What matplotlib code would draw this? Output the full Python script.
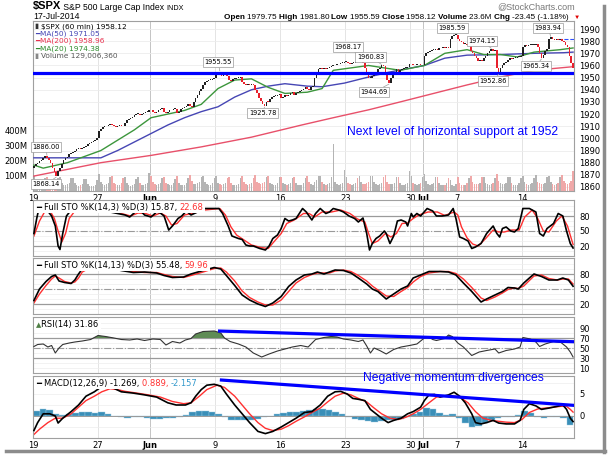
import numpy as np
import matplotlib.pyplot as plt
from matplotlib.patches import Rectangle
from matplotlib.lines import Line2D

W, H = 609, 455

# ---------------- data ----------------
# hourly closes, one row per trading day (Jul 3 was a half day)
first_open = 1876.0
closes = [
    [1877, 1879, 1880, 1881, 1882, 1884, 1885.1],    # May 19
    [1884, 1882, 1880, 1876, 1872, 1869, 1872.8],    # May 20
    [1876, 1879, 1882, 1884, 1885, 1887, 1888.0],    # May 21
    [1889, 1890, 1891, 1892, 1891, 1892, 1892.5],    # May 22
    [1894, 1895, 1896, 1897, 1898, 1899, 1900.5],    # May 23
    [1906, 1908, 1909, 1910, 1910, 1911, 1911.9],    # May 27
    [1911, 1910, 1909, 1910, 1911, 1910, 1909.8],    # May 28
    [1913, 1915, 1916, 1917, 1918, 1919, 1920.0],    # May 29
    [1920, 1919, 1920, 1921, 1922, 1922, 1923.6],    # May 30
    [1923, 1922, 1921, 1922, 1923, 1924, 1925.0],    # Jun 2
    [1922, 1921, 1922, 1923, 1923, 1924, 1924.2],    # Jun 3
    [1921, 1922, 1924, 1925, 1926, 1927, 1927.9],    # Jun 4
    [1927, 1926, 1930, 1933, 1936, 1939, 1940.5],    # Jun 5
    [1944, 1946, 1947, 1948, 1948, 1949, 1949.4],    # Jun 6
    [1953, 1955, 1952, 1951, 1952, 1953, 1951.3],    # Jun 9
    [1948, 1947, 1949, 1949, 1950, 1950, 1950.8],    # Jun 10
    [1946, 1945, 1944, 1945, 1944, 1944, 1943.9],    # Jun 11
    [1940, 1937, 1933, 1931, 1928, 1926.5, 1930.1],  # Jun 12
    [1930, 1932, 1934, 1935, 1935, 1936, 1936.2],    # Jun 13
    [1933, 1934, 1936, 1935, 1936, 1937, 1937.8],    # Jun 16
    [1936, 1937, 1938, 1939, 1940, 1941, 1942.0],    # Jun 17
    [1941, 1940, 1942, 1943, 1950, 1954, 1957.0],    # Jun 18
    [1958, 1957, 1958, 1957, 1958, 1959, 1959.5],    # Jun 19
    [1960, 1960, 1961, 1961, 1962, 1962, 1962.9],    # Jun 20
    [1963, 1962, 1961, 1962, 1962, 1963, 1962.6],    # Jun 23
    [1966, 1967.5, 1962, 1958, 1954, 1950, 1950.0],  # Jun 24
    [1951, 1953, 1955, 1957, 1958, 1960, 1959.5],    # Jun 25
    [1955, 1948, 1945.5, 1950, 1953, 1955, 1957.2],  # Jun 26
    [1955, 1956, 1957, 1958, 1958, 1959, 1961.0],    # Jun 27
    [1961, 1960, 1960, 1961, 1961, 1960, 1960.2],    # Jun 30
    [1968, 1970, 1971, 1972, 1973, 1973, 1973.3],    # Jul 1
    [1973, 1974, 1974, 1975, 1974, 1975, 1974.6],    # Jul 2
    [1982, 1984, 1985.2, 1985.4],                    # Jul 3
    [1982, 1980, 1979, 1978, 1978, 1977, 1977.7],    # Jul 7
    [1972, 1970, 1968, 1966, 1964, 1964, 1963.7],    # Jul 8
    [1966, 1968, 1970, 1972, 1973.5, 1972, 1972.8],  # Jul 9
    [1958, 1954, 1958, 1960, 1962, 1963, 1964.7],    # Jul 10
    [1966, 1965, 1966, 1966, 1967, 1967, 1967.6],    # Jul 11
    [1975, 1977, 1976, 1977, 1977, 1977, 1977.1],    # Jul 14
    [1978, 1975, 1970, 1966, 1969, 1972, 1973.3],    # Jul 15
    [1982, 1983.5, 1982, 1981, 1982, 1981, 1981.6],  # Jul 16
    [1980, 1979, 1977, 1975, 1968, 1962, 1958.1],    # Jul 17
]

# hourly volume in millions, same layout
volumes = [
    [100, 62, 48, 40, 44, 52, 84], [96, 58, 48, 44, 55, 62, 88],
    [92, 55, 42, 38, 45, 52, 85], [88, 52, 40, 36, 40, 48, 78],
    [80, 45, 36, 30, 34, 40, 70], [112, 62, 48, 40, 44, 52, 92],
    [98, 56, 44, 38, 42, 50, 84], [94, 52, 40, 36, 40, 48, 80],
    [96, 54, 42, 38, 44, 52, 118], [100, 58, 44, 40, 44, 52, 86],
    [96, 56, 44, 40, 42, 50, 82], [98, 56, 42, 38, 42, 50, 84],
    [108, 66, 48, 44, 52, 60, 96], [102, 58, 44, 38, 42, 50, 88],
    [100, 56, 44, 40, 44, 50, 86], [94, 54, 42, 38, 42, 48, 84],
    [98, 58, 46, 40, 44, 52, 88], [104, 62, 50, 44, 50, 58, 96],
    [98, 56, 44, 38, 42, 50, 90], [96, 56, 44, 40, 44, 52, 88],
    [94, 54, 42, 38, 42, 50, 86], [98, 58, 44, 40, 62, 70, 100],
    [102, 60, 46, 42, 46, 54, 96], [315, 62, 46, 42, 48, 56, 140],
    [96, 56, 44, 40, 44, 52, 88], [100, 60, 48, 46, 52, 60, 98],
    [102, 58, 46, 42, 46, 54, 90], [104, 62, 48, 44, 48, 56, 92],
    [96, 54, 42, 38, 44, 56, 135], [98, 56, 44, 40, 44, 52, 92],
    [110, 64, 48, 42, 46, 54, 92], [96, 54, 42, 38, 42, 50, 84],
    [72, 42, 34, 48], [92, 54, 42, 38, 42, 50, 84],
    [100, 60, 48, 44, 48, 56, 94], [96, 56, 44, 40, 44, 52, 88],
    [112, 66, 50, 44, 48, 56, 94], [94, 54, 42, 38, 42, 50, 86],
    [100, 58, 44, 40, 44, 52, 88], [104, 62, 50, 44, 48, 56, 94],
    [100, 58, 46, 40, 44, 52, 90], [108, 64, 50, 46, 56, 68, 130],
]

tick_bars = [0, 35, 63, 98, 133, 168, 203, 210, 228, 263]
tick_text = ['19', '27', 'Jun', '9', '16', '23', '30', 'Jul', '7', '14']

# moving averages (bar index, value)
ma200_x = [0, 36, 63, 90, 117, 144, 161, 180, 197, 215, 233, 251, 269, 290]
ma200_y = [1869, 1880, 1886, 1893, 1901, 1911, 1917, 1923.5, 1930, 1937, 1944, 1950.5, 1956, 1959]
ma50_x = [0, 36, 45, 54, 63, 72, 81, 90, 99, 108, 117, 126, 135, 147, 155, 167, 180, 191,
          203, 210, 221, 233, 251, 269, 285, 290]
ma50_y = [1884, 1884, 1890, 1897, 1904, 1911, 1917, 1922, 1926, 1934, 1940, 1943, 1945, 1943,
          1942.5, 1945.5, 1950.5, 1954.5, 1958, 1960, 1966, 1968.5, 1969, 1970, 1970.5, 1971]
ma20_x = [0, 5, 18, 36, 54, 63, 81, 90, 99, 108, 117, 126, 135, 147, 155, 161, 180, 197,
          210, 221, 233, 242, 251, 260, 269, 283, 290]
ma20_y = [1878, 1875.5, 1880, 1890, 1907, 1917, 1923, 1928, 1941, 1948, 1949, 1942, 1937, 1938,
          1941, 1956, 1960, 1956, 1960, 1970, 1973, 1969, 1969, 1967, 1971, 1973, 1974.4]

# price labels: text, label box (bar, price), tip (bar, price)
label_text = ['1886.00', '1868.14', '1955.55', '1925.78', '1968.17', '1960.83',
              '1944.69', '1985.59', '1974.15', '1983.94', '1952.86', '1965.34']
label_box = [(6.5, 1893), (6.5, 1862.5), (99, 1962.9), (123, 1921), (169, 1975.2),
             (181, 1967), (183, 1938.2), (225, 1990.9), (241, 1980.2), (276.5, 1990.9),
             (247, 1947.2), (270, 1959.6)]
label_tip = [(7, 1886.0), (12, 1868.14), (100, 1955.55), (124, 1925.78), (175, 1968.17),
             (187, 1960.83), (191, 1944.69), (226, 1985.59), (246, 1974.15), (278, 1983.94),
             (250, 1952.86), (273, 1965.34)]
support_level = 1953.5

# Full STO %K(14,3) / %D(3)
sto1_k_x = [0, 1.5, 2.5, 7, 9.5, 11.5, 13, 14, 15.5, 17.5, 20, 27, 34.5, 38.5, 41, 45, 49, 51.5,
            54.5, 57.5, 59.5, 63, 66, 68, 70, 72.5, 74.5, 77.5, 79.5, 82, 84.5, 88, 91, 95, 99.5,
            101.5, 104.5, 106.5, 110, 112, 114, 116, 118, 121.5, 124.5, 126.5, 128.5, 131, 133,
            135, 137, 139, 141, 144.5, 146.5, 149.5, 151.5, 154, 157, 159, 161, 164, 166.5, 169.5,
            172.5, 174.5, 177, 179, 180.5, 182, 184, 186, 188.5, 189.5, 191.5, 193.5, 195.5,
            197.5, 200, 201, 203, 204, 206, 208, 211.5, 214.5, 216.5, 219.5, 223, 225.5, 227,
            229, 231, 233.5, 235.5, 237.5, 240.5, 243.5, 247, 249, 250.5, 252, 254, 256.5, 258.5,
            260.5, 263, 266.5, 270, 272, 274, 276, 279.5, 282, 284.5, 286.5, 288.5, 290]
sto1_k = [45, 75, 92, 92, 80, 60, 20, 13, 45, 80, 92, 95, 92, 90, 88, 85, 82, 78, 88, 90,
          82, 78, 88, 86, 80, 52, 60, 75, 80, 90, 82, 88, 95, 95, 95, 85, 60, 40, 35, 33,
          22, 20, 20, 15, 12, 20, 35, 42, 55, 75, 70, 72, 75, 95, 88, 72, 85, 95, 85, 88,
          95, 92, 88, 80, 75, 68, 76, 45, 12, 25, 35, 40, 50, 45, 25, 40, 70, 72, 68, 60,
          85, 78, 85, 80, 95, 90, 80, 80, 82, 95, 75, 38, 35, 30, 15, 18, 25, 45, 60, 45,
          38, 55, 58, 50, 48, 55, 95, 95, 88, 45, 40, 55, 65, 85, 80, 50, 25, 16]
sto1_d_x = [0, 3, 6, 9, 11, 13, 15, 17, 19, 22, 30, 40, 48, 52, 56, 60, 64, 68, 71, 74,
            77, 81, 86, 92, 100, 103, 106, 109, 113, 117, 122, 126, 129, 133, 136, 140, 145, 148,
            151, 155, 160, 165, 170, 174, 178, 180, 182, 185, 189, 192, 195, 198, 201, 204, 207,
            212, 217, 221, 226, 228, 230, 233, 236, 239, 243, 247, 250, 253, 257, 261, 264, 268,
            271, 274, 277, 281, 284, 287, 290]
sto1_d = [40, 70, 90, 88, 75, 50, 28, 45, 75, 90, 94, 90, 84, 80, 86, 85, 80, 86, 80, 62,
          65, 82, 86, 92, 95, 82, 58, 42, 32, 22, 17, 15, 28, 45, 65, 72, 85, 85, 78, 88,
          88, 92, 85, 74, 68, 45, 25, 30, 45, 38, 45, 65, 66, 75, 82, 88, 88, 81, 88, 82,
          58, 36, 24, 20, 35, 52, 48, 48, 52, 52, 78, 92, 75, 50, 48, 70, 80, 60, 23]

# Full STO %K(14,13) / %D(3)
sto2_x = [0, 3, 6.5, 9.5, 11.5, 13.5, 16.5, 20, 22, 24, 26, 30, 43, 47, 53.5, 59.5, 66, 70,
          74.5, 80.5, 84.5, 91, 97, 100.5, 103.5, 108, 112, 116, 120.5, 124.5, 128.5, 133, 137,
          141, 145.5, 149.5, 152.5, 156, 159, 162, 166.5, 170.5, 174.5, 179, 182, 185, 189.5,
          193.5, 197.5, 201, 204, 208, 212.5, 218.5, 223, 227, 231, 235.5, 240.5, 243.5, 248,
          252, 255, 258.5, 260.5, 263.5, 266.5, 269, 273, 277, 281.5, 284.5, 287.5, 290]
sto2_k = [27, 50, 65, 75, 78, 66, 63, 61, 68, 80, 90, 93, 90, 87, 83, 84, 82, 77, 73, 74,
          80, 87, 93, 90, 77, 57, 38, 28, 20, 15, 22, 35, 55, 68, 78, 80, 84, 80, 84, 88,
          87, 82, 72, 60, 50, 45, 30, 40, 50, 56, 72, 78, 85, 85, 84, 78, 62, 45, 24, 30,
          38, 45, 53, 52, 50, 62, 72, 80, 75, 68, 68, 72, 68, 55.5]
sto2_d = [22, 40, 57, 70, 76, 72, 65, 62, 64, 72, 84, 92, 91, 88, 85, 83, 83, 79, 75, 73,
          77, 84, 91, 92, 84, 66, 46, 33, 24, 18, 18, 28, 45, 62, 73, 79, 82, 82, 82, 86,
          88, 85, 77, 66, 56, 48, 36, 35, 45, 53, 64, 75, 82, 85, 85, 81, 70, 53, 32, 27,
          34, 42, 49, 52, 51, 56, 67, 76, 78, 71, 68, 70, 70, 60]

# RSI(14)
rsi_x = [0, 2, 5, 7.5, 9.5, 11.5, 13.5, 15.5, 19, 22, 26, 30.5, 34.5, 38.5, 43, 47, 51.5, 55.5,
         59.5, 64, 68, 71, 74.5, 78.5, 81.5, 84.5, 87, 91, 97, 100.5, 102.5, 105.5, 110, 114, 118,
         122.5, 126.5, 131, 135, 139, 143.5, 147.5, 151.5, 156, 160, 163, 166.5, 170.5, 174.5,
         177, 179, 181, 183, 186, 189.5, 193.5, 197.5, 202, 206, 210, 212.5, 214.5, 216.5, 221,
         223, 225, 228, 231, 235.5, 239.5, 243.5, 248, 250, 254, 258.5, 261.5, 263, 267, 270,
         272, 275, 279.5, 283.5, 286.5, 288.5, 290]
rsi_y = [53, 57, 58, 52, 55, 40, 50, 57, 60, 62, 64, 67, 75, 73, 70, 67, 66, 68, 65, 68,
         67, 56, 63, 60, 66, 69, 78, 83, 84, 80, 70, 63, 58, 52, 40, 32, 38, 44, 48, 52,
         55, 52, 67, 71, 73, 72, 68, 66, 63, 66, 54, 40, 50, 45, 38, 47, 52, 55, 58, 70,
         72, 67, 65, 69, 76, 73, 60, 52, 35, 42, 45, 48, 40, 45, 48, 52, 71, 68, 62, 53,
         58, 63, 61, 52, 42, 32]
rsi_trend_x = [99, 291]
rsi_trend_y = [84, 62.5]

# MACD(12,26,9)
macd_x = [0, 2, 5, 8.5, 11.5, 13, 15.5, 20, 24, 28, 32.5, 36.5, 43, 47, 53.5, 59.5, 66, 72,
          76.5, 81.5, 84.5, 87, 90, 93, 97, 100.5, 103.5, 108, 112, 116, 120.5, 124.5, 128.5,
          133, 137, 141, 145.5, 149.5, 154, 158, 162, 165, 168.5, 171.5, 174.5, 178, 181, 184,
          187, 190.5, 193.5, 197.5, 201, 204, 208, 210, 212.5, 215.5, 218.5, 223, 226, 229, 232,
          235.5, 237.5, 240.5, 243.5, 247, 250, 254, 258.5, 261.5, 263.5, 266.5, 270, 273, 277,
          281.5, 284.5, 286.5, 288.5, 290]
macd_y = [-3.3, -1.5, 0.5, 0.5, 0, -1.6, -0.5, 1.0, 2.5, 4.5, 5.5, 6.7, 6.3, 5.5, 5.2, 4.8,
          4.3, 3.0, 2.5, 2.5, 3.0, 4.5, 6.0, 7.0, 7.2, 6.8, 5.0, 2.5, 0.5, -1.5, -3.5, -4.0,
          -3.5, -2.5, -1.5, -0.5, 0.8, 1.0, 2.5, 4.5, 5.5, 5.6, 5.0, 4.0, 3.8, 3.5, 1.5, 0.5,
          -0.5, -1.5, -1.0, -0.5, 0.5, 1.0, 2.0, 3.5, 4.8, 4.9, 4.3, 4.8, 5.4, 4.5, 3.0, 0.5,
          -1.5, -1.8, -1.5, -1.0, -1.6, -1.8, -1.8, -1.0, 1.5, 2.8, 2.3, 1.5, 1.8, 2.2, 2.5,
          1.5, -0.5, -1.27]
signal_x = [0, 3, 7.5, 11.5, 15.5, 20, 24, 28, 32.5, 36.5, 41, 45, 49, 55.5, 61.5, 68, 74.5,
            80.5, 84.5, 89, 93, 98.5, 102.5, 108, 112, 116, 120.5, 124.5, 128.5, 133, 137, 141,
            145.5, 149.5, 154, 158, 162, 166.5, 170.5, 174.5, 179, 183, 187, 191.5, 196, 200,
            204, 208, 212.5, 216.5, 221, 225, 229, 233.5, 237.5, 241.5, 246, 250, 254, 258.5,
            262.5, 266.5, 271, 275, 279.5, 283.5, 286.5, 288.5, 290]
signal_y = [-4.2, -3.0, -1.5, -0.5, -0.5, 0.5, 2.0, 3.5, 4.5, 5.5, 6.2, 6.0, 5.6, 5.2, 4.8,
            4.3, 3.3, 2.8, 3.0, 4.5, 6.0, 7.0, 6.5, 4.5, 2.5, 0.5, -1.5, -2.8, -3.3, -3.0, -2.2,
            -1.2, -0.2, 0.8, 1.8, 3.2, 4.5, 5.2, 4.8, 4.0, 3.2, 1.8, 0.5, -0.5, -0.8, -0.3, 0.5,
            1.5, 3.0, 4.3, 4.5, 4.6, 4.3, 3.0, 1.0, -0.5, -1.0, -1.2, -1.4, -1.5, -0.8, 0.8,
            1.6, 1.8, 2.0, 2.2, 2.2, 1.5, 0.89]
# histogram, one value per half trading day
hist_vals = [1.2, 1.6, 1.3, 0.5, 0.3, 0.5, 0.7, 0.8, 0.8, 0.6,
             0.9, 0.5, 0.1, -0.2, -0.4, -0.3, -0.2, -0.4, -0.6, -0.7,
             -0.5, -0.4, -0.2, 0.2, 0.8, 1.1, 1.2, 0.9, 0.4, -0.3,
             -0.8, -1.0, -1.0, -0.9, -0.6, -0.3, 0.1, 0.4, 0.6, 0.8,
             0.9, 1.2, 1.4, 1.5, 1.6, 1.3, 0.9, 0.4, -0.2, -0.6,
             -0.9, -1.2, -1.3, -1.1, -1.0, -0.8, -0.6, -0.2, 0.4, 1.0,
             1.8, 1.5, 0.6, 0.3, 0.5, -0.5, -1.5, -2.5, -2.2, -1.6,
             -0.9, -0.4, -0.2, -0.2, 0.3, 1.2, 0.6, -0.3, -0.4, -0.3,
             -0.2, -0.4, -2.0]
macd_trend_x = [100, 291]
macd_trend_y = [8.2, 2.4]

# ---------------- figure ----------------
fig = plt.figure(figsize=(W / 100, H / 100), dpi=100)
fig.patch.set_facecolor('white')
renderer = fig.canvas.get_renderer()
XLIM = (-0.5, 290.5)
FRAME = '#a0a0a0'


def rect(top, bottom):
    return [33 / W, 1 - bottom / H, 541 / W, (bottom - top) / H]


def verticals(a):
    for b, lab in zip(tick_bars, tick_text):
        a.axvline(b - 0.5, color='#c4c4c4' if lab in ('Jun', 'Jul') else '#e4e4e4',
                  lw=0.7, zorder=0)


def frame(a):
    for s in a.spines.values():
        s.set_color(FRAME)
        s.set_linewidth(0.8)


def date_ticks(a):
    a.set_xticks([b - 0.5 for b in tick_bars])
    a.set_xticklabels(tick_text)
    for t in a.get_xticklabels():
        if t.get_text() in ('Jun', 'Jul'):
            t.set_fontweight('bold')
    a.tick_params(axis='x', length=0, labelsize=6, pad=2)


def row(x, y, pieces, family='DejaVu Sans', scale=1.0):
    texts = []
    for txt, color, weight, size in pieces:
        t = fig.text(x / W, 1 - y / H, txt, color=color, fontweight=weight, fontsize=size * scale,
                     family=family, ha='left', va='baseline', zorder=5)
        x += t.get_window_extent(renderer).width
        texts.append(t)
    return x, texts


def fit_row(x0, x1, y, pieces, family):
    # lay the row out once, then redo it scaled so it ends at x1
    end, texts = row(x0, y, pieces, family)
    for t in texts:
        t.remove()
    return row(x0, y, pieces, family, scale=(x1 - x0) / (end - x0))[0]


def legend_box(x0, x1, top):
    fig.add_artist(Rectangle((x0 / W, 1 - (top + 13) / H), (x1 - x0) / W, 11 / H,
                             transform=fig.transFigure, fc='white', ec='none', zorder=4))


# price data flattened to hourly bars
c = np.concatenate([np.array(r, float) for r in closes])
o = np.r_[first_open, c[:-1]]
v = np.concatenate([np.array(r, float) for r in volumes])
x = np.arange(len(c))
up = c >= o

# ---- volume (behind price) ----
axv = fig.add_axes(rect(21, 191))
axv.set_xlim(XLIM)
axv.set_ylim(0, 1133)
axv.bar(x, v, width=0.8, color=np.where(up, '#b4b4b4', '#f0a8a8'), zorder=2)
axv.set_yticks([100, 200, 300, 400])
axv.set_yticklabels(['100M', '200M', '300M', '400M'])
axv.tick_params(axis='y', length=0, labelsize=6, pad=4)
axv.set_xticks([])
for s in axv.spines.values():
    s.set_visible(False)
verticals(axv)
for p in range(1860, 1991, 10):
    axv.axhline((p - 1856.7) / (1996.6 - 1856.7) * 1133, color='#ececec', lw=0.6, zorder=0)

# ---- price ----
ax = fig.add_axes(rect(21, 191))
ax.patch.set_alpha(0)
ax.set_xlim(XLIM)
ax.set_ylim(1856.7, 1996.6)
ax.yaxis.tick_right()
ax.set_yticks(range(1860, 1991, 10))
ax.tick_params(axis='y', length=0, labelsize=6, pad=4)
date_ticks(ax)
frame(ax)

ax.plot(ma200_x, ma200_y, color='#e8506a', lw=1.0, zorder=3)
ax.plot(ma50_x, ma50_y, color='#4646b4', lw=1.0, zorder=3)
ax.plot(ma20_x, ma20_y, color='#3c963c', lw=1.0, zorder=3)

body = np.maximum(np.abs(c - o), 0.6)
ax.bar(x, body, bottom=np.minimum(c, o), width=0.85,
       color=np.where(up, '#202020', '#e8202c'), zorder=4)

ax.axhline(support_level, color='#0000ff', lw=2.3, zorder=5)
ax.plot([282, 290.5], [1981.6, 1981.6], color='#3050ff', ls='--', lw=0.8, zorder=3)

for txt, box, tip in zip(label_text, label_box, label_tip):
    ax.annotate(txt, xy=tip, xytext=box, fontsize=4.8, ha='center', va='center', zorder=6,
                bbox=dict(boxstyle='square,pad=0.25', fc='white', ec='#9a9a9a', lw=0.5),
                arrowprops=dict(arrowstyle='-', color='#9a9a9a', lw=0.5,
                                shrinkA=0, shrinkB=0))

ax.text(225.4, 1905.3, 'Next level of horizontal support at 1952', color='#0000ff',
        fontsize=8.7, family='Liberation Sans', ha='center', va='center', zorder=6)

# ---- stochastics ----
def osc_panel(top, bottom, ylim, ticks):
    a = fig.add_axes(rect(top, bottom))
    a.set_xlim(XLIM)
    a.set_ylim(*ylim)
    a.yaxis.tick_right()
    a.set_yticks(ticks)
    a.set_xticks([])
    a.tick_params(axis='y', length=0, labelsize=6, pad=4)
    verticals(a)
    frame(a)
    return a


sto_ticks = [20, 50, 80]
for top, bottom, kx, k, dx, d in [(200, 256, sto1_k_x, sto1_k, sto1_d_x, sto1_d),
                                  (258, 314, sto2_x, sto2_k, sto2_x, sto2_d)]:
    a = osc_panel(top, bottom, (0, 112), sto_ticks)
    for lv in range(10, 101, 10):
        a.axhline(lv, color='#ededed', lw=0.5, zorder=0)
    a.axhline(80, color='#9a9a9a', lw=0.9, zorder=1)
    a.axhline(20, color='#9a9a9a', lw=0.9, zorder=1)
    a.axhline(50, color='#9a9a9a', lw=0.8, ls='-.', zorder=1)
    a.plot(dx, d, color='#ff3030', lw=1.0, zorder=2)
    a.plot(kx, k, color='black', lw=1.2, zorder=3)

# ---- RSI ----
ar = osc_panel(317, 373, (0, 112), [10, 30, 50, 70, 90])
for lv in range(10, 101, 10):
    ar.axhline(lv, color='#ededed', lw=0.5, zorder=0)
ar.axhline(70, color='#9a9a9a', lw=0.9, zorder=1)
ar.axhline(30, color='#9a9a9a', lw=0.9, zorder=1)
ar.axhline(50, color='#9a9a9a', lw=0.8, ls='-.', zorder=1)
rx = np.array(rsi_x)
ry = np.array(rsi_y, float)
ar.fill_between(rx, ry, 70, where=ry > 70, interpolate=True, color='#5f8c55', lw=0, zorder=2)
ar.plot(rx, ry, color='#333333', lw=0.8, zorder=3)
ar.plot(rsi_trend_x, rsi_trend_y, color='#0000ff', lw=2.3, zorder=4, solid_capstyle='butt')

# ---- MACD ----
am = osc_panel(376, 438, (-5.0, 9.09), [0, 5])
for lv in (-2.5, 2.5, 5, 7.5):
    am.axhline(lv, color='#ededed', lw=0.5, zorder=0)
hx = np.arange(len(hist_vals)) * 3.5 + 1.25
am.bar(hx, hist_vals, width=3.5, color='#3a8fb8', edgecolor='#9cc9e0', lw=0.3, zorder=1)
am.axhline(0, color='#9a9a9a', lw=0.7, zorder=1)
am.plot(signal_x, signal_y, color='#ff3030', lw=1.0, zorder=2)
am.plot(macd_x, macd_y, color='black', lw=1.2, zorder=3)
am.plot(macd_trend_x, macd_trend_y, color='#0000ff', lw=2.3, zorder=4, solid_capstyle='butt')
date_ticks(am)

fig.text(453 / W, 1 - 378 / H, 'Negative momentum divergences', color='#0000ff',
         fontsize=8.7, family='Liberation Sans', ha='center', va='center', zorder=6)

# ---------------- header and legends ----------------
row(33, 9.5, [('$SPX', 'black', 'bold', 8), (' S&P 500 Large Cap Index ', 'black', 'normal', 6.2),
              ('INDX', 'black', 'normal', 5.2)], family='Liberation Sans')
row(33, 19, [('17-Jul-2014', 'black', 'normal', 6.3)], family='Liberation Sans')
fig.text(575 / W, 1 - 9 / H, '@StockCharts.com', color='#777777', fontsize=6.5,
         family='Liberation Sans', ha='right', va='baseline')
hdr = []
for lab, val in [('Open', '1979.75'), ('High', '1981.80'), ('Low', '1955.59'),
                 ('Close', '1958.12'), ('Volume', '23.6M'), ('Chg', '-23.45 (-1.18%) ')]:
    hdr.append((lab + ' ', 'black', 'bold', 6.5))
    hdr.append((val + ' ', 'black', 'normal', 6.5))
hdr.append(('▼', '#e00000', 'normal', 5))
fit_row(224, 577, 19, hdr, family=['Liberation Sans', 'DejaVu Sans'])

row(35, 28, [('▮ ', '#333333', 'normal', 5.3), ('$SPX (60 min) 1958.12', 'black', 'normal', 5.3)])
row(35, 35.5, [('━', '#4646b4', 'normal', 5.3), ('MA(50) 1971.05', '#4646b4', 'normal', 5.3)])
row(35, 43, [('━', '#e8304e', 'normal', 5.3), ('MA(200) 1958.96', '#e8304e', 'normal', 5.3)])
row(35, 50.5, [('━', '#2e8b2e', 'normal', 5.3), ('MA(20) 1974.38', '#2e8b2e', 'normal', 5.3)])
row(35, 58, [('▮ ', '#888888', 'normal', 5.3), ('Volume 129,006,360', '#555555', 'normal', 5.3)])

for top, pieces in [
        (200, [('━ ', 'black', 'normal', 6), ('Full STO %K(14,3) %D(3) 15.87, ', 'black', 'normal', 6),
               ('22.68', '#ff3030', 'normal', 6)]),
        (258, [('━ ', 'black', 'normal', 6), ('Full STO %K(14,13) %D(3) 55.48, ', 'black', 'normal', 6),
               ('59.96', '#ff3030', 'normal', 6)]),
        (317, [('▲', '#4f7f45', 'normal', 5), ('RSI(14) 31.86', 'black', 'normal', 6)]),
        (376, [('━ ', 'black', 'normal', 6), ('MACD(12,26,9) -1.269, ', 'black', 'normal', 6),
               ('0.889, ', '#ff3030', 'normal', 6), ('-2.157', '#3399cc', 'normal', 6)])]:
    end = row(36, top + 10, pieces)[0]
    legend_box(34, end + 2, top)

# page shadow on the right and bottom
fig.add_artist(Line2D([604 / W, 604 / W], [1 - 6 / H, 1 - 452 / H], color='#8c8c8c', lw=2.5,
                      transform=fig.transFigure))
fig.add_artist(Line2D([6 / W, 605 / W], [1 - 451 / H, 1 - 451 / H], color='#8c8c8c', lw=2.5,
                      transform=fig.transFigure))

fig.savefig('out.png', dpi=100, facecolor='white')
